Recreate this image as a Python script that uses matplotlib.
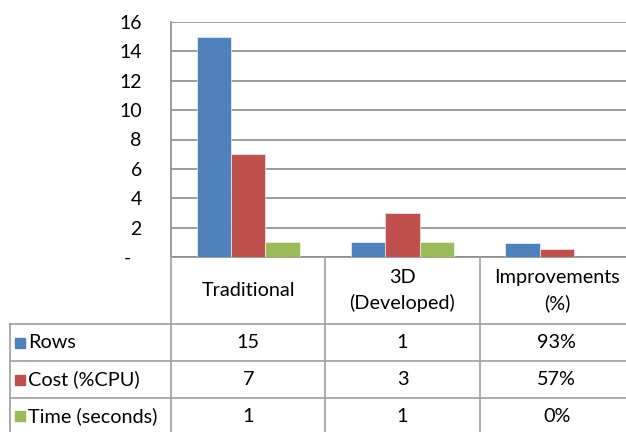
import matplotlib.pyplot as plt
import numpy as np

plt.rcParams['font.family'] = ['Lato', 'DejaVu Sans']

# data
categories = ["Traditional", "3D\n(Developed)", "Improvements\n(%)"]
series_names = ["Rows", "Cost (%CPU)", "Time (seconds)"]
rows_vals = [15, 1, 0.93]
cost_vals = [7, 3, 0.57]
time_vals = [1, 1, 0.0]
colors = ["#4F81BD", "#C0504D", "#9BBB59"]
y_ticks = [0, 2, 4, 6, 8, 10, 12, 14, 16]
y_labels = ["-  ", "2", "4", "6", "8", "10", "12", "14", "16"]

W, H = 626, 432
fig = plt.figure(figsize=(W / 100, H / 100), dpi=100)

# layout in pixels
plot_left, plot_right = 171, 634
plot_top, plot_bottom = 22, 257
table_left = 10
row_lines = [324, 361, 398, 440]
grid_col = "#8C8C8C"
tbl_col = "#A6A6A6"
fs = 14.3

ax = fig.add_axes([plot_left / W, 1 - plot_bottom / H,
                   (plot_right - plot_left) / W, (plot_bottom - plot_top) / H])

x = np.arange(len(categories))
bw = 1 / 4.5
all_vals = [rows_vals, cost_vals, time_vals]
for i, (vals, c) in enumerate(zip(all_vals, colors)):
    ax.bar(x + (i - 1) * bw, vals, width=bw, color=c, edgecolor="white",
           linewidth=0.4, zorder=3)

ax.set_xlim(-0.5, len(categories) - 0.5)
ax.set_ylim(0, 16)
ax.set_yticks(y_ticks)
ax.set_yticklabels(y_labels, fontsize=14)
ax.set_xticks([])
ax.tick_params(axis="y", length=0, pad=21)
ax.grid(axis="y", color=grid_col, linewidth=1.2, zorder=0)
for s in ["top", "right"]:
    ax.spines[s].set_visible(False)
ax.spines["left"].set_color(grid_col)
ax.spines["bottom"].set_color(grid_col)
ax.spines["left"].set_linewidth(1.2)
ax.spines["bottom"].set_linewidth(1.2)

# data table drawn in pixel coordinates
tab = fig.add_axes([0, 0, 1, 1])
tab.set_xlim(0, W)
tab.set_ylim(H, 0)
tab.axis("off")

cat_w = (plot_right - plot_left) / len(categories)
col_edges = [plot_left + k * cat_w for k in range(len(categories) + 1)]

# table borders
for xe in col_edges[:-1]:
    tab.plot([xe, xe], [plot_bottom, row_lines[-1]], color=tbl_col, lw=1.3)
tab.plot([table_left, table_left], [row_lines[0], row_lines[-1]], color=tbl_col, lw=1.3)
for yr in row_lines[:-1]:
    tab.plot([table_left, W], [yr, yr], color=tbl_col, lw=1.3)

hdr_mid = (plot_bottom + row_lines[0]) / 2
for k, cat in enumerate(categories):
    cx = (col_edges[k] + col_edges[k + 1]) / 2
    tab.text(cx, hdr_mid, cat, ha="center", va="center", fontsize=fs,
             linespacing=1.5)

for r, (name, vals, c) in enumerate(zip(series_names, all_vals, colors)):
    cy = (row_lines[r] + row_lines[r + 1] if r < 2 else row_lines[r] + 434) / 2
    tab.plot([20], [cy], marker="s", ms=7.5, color=c, mec=c)
    tab.text(28, cy, name, ha="left", va="center", fontsize=fs)
    for k, v in enumerate(vals):
        cx = (col_edges[k] + col_edges[k + 1]) / 2
        label = f"{v:.0%}" if k == 2 else f"{v:g}"
        tab.text(cx, cy, label, ha="center", va="center", fontsize=fs)

fig.savefig("out.png", dpi=100)
